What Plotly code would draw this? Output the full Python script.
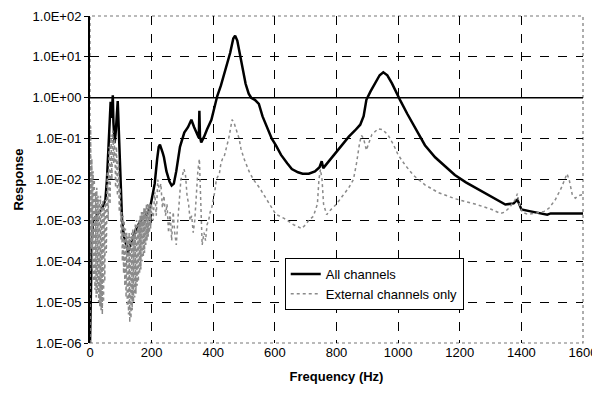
import plotly.graph_objects as go

# All channels (black line)
freq_all = [0, 3, 6, 10, 20, 30, 40, 50, 55, 60, 64, 67, 70, 72, 74, 76, 80, 84, 87, 90, 93, 97,
            100, 104, 110, 120, 125, 130, 140, 150, 165, 180, 195, 200, 210, 218, 223, 227, 232,
            236, 240, 248, 258, 265, 272, 280, 292, 306, 318, 329, 338, 348, 353, 355, 357, 361,
            370, 380, 394, 405, 413, 425, 440, 455, 465, 471, 478, 490, 505, 515, 523, 535, 548,
            560, 575, 590, 603, 620, 640, 655, 675, 690, 710, 730, 745, 752, 757, 770, 790, 816,
            840, 860, 877, 888, 897, 910, 925, 940, 952, 965, 980, 995, 1006, 1030, 1060, 1087,
            1120, 1150, 1184, 1220, 1258, 1300, 1348, 1375, 1387, 1393, 1400, 1430, 1460, 1484,
            1495, 1600]
resp_all = [1e-6, 3.2e-5, 3.2e-4, 1.0e-3, 1.3e-3, 1.6e-3, 2.0e-3, 3.2e-3, 1.0e-2, 6.3e-2,
            0.50, 0.79, 0.32, 1.0, 1.15, 0.25, 0.079, 0.16, 0.50, 0.83, 0.20, 0.032,
            3.2e-3, 1.0e-3, 4.0e-4, 2.0e-4, 1.6e-4, 2.5e-4, 4.0e-4, 6.3e-4, 1.0e-3, 1.3e-3,
            2.0e-3, 3.2e-3, 7.9e-3, 0.032, 0.063, 0.071, 0.050, 0.045, 0.035, 0.016, 8.9e-3,
            7.1e-3, 7.9e-3, 0.016, 0.063, 0.14, 0.19, 0.29, 0.19, 0.126, 0.105, 0.48, 0.11,
            0.081, 0.11, 0.17, 0.29, 0.63, 1.1, 2.0, 5.0, 12.6, 28.0, 33.0, 25.0, 7.9, 2.2,
            1.26, 1.0, 0.89, 0.71, 0.35, 0.18, 0.10, 0.069, 0.040, 0.025, 0.018, 0.015,
            0.0138, 0.0138, 0.0158, 0.020, 0.028, 0.019, 0.025, 0.040, 0.069, 0.112, 0.158,
            0.219, 0.355, 0.89, 1.41, 2.24, 3.55, 4.2, 3.55, 2.24, 1.26, 0.89, 0.40, 0.158,
            0.069, 0.035, 0.022, 0.0129, 8.5e-3, 5.9e-3, 4.0e-3, 2.45e-3, 2.6e-3, 3.2e-3,
            2.5e-3, 1.86e-3, 1.66e-3, 1.51e-3, 1.38e-3, 1.48e-3, 1.48e-3]

# External channels only (grey dotted line)
freq_ext = [0, 2, 4, 6, 8, 10, 12, 14, 16, 18, 20, 22, 24, 26, 28, 30, 32, 34, 36, 38, 40, 42,
            44, 46, 48, 50, 53, 56, 59, 62, 65, 68, 71, 74, 77, 80, 83, 86, 89, 92, 95, 98,
            101, 103, 105, 107, 109, 111, 113, 115, 117, 119, 121, 123, 125, 127, 129, 131,
            133, 135, 137, 139, 141, 143, 145, 147, 149, 151, 153, 155, 157, 159, 161, 163,
            165, 167, 169, 171, 173, 175, 177, 179, 181, 183, 185, 187, 189, 191, 193, 195,
            197, 200, 205, 210, 215, 220, 225, 230, 235,
            240, 245, 250, 255, 260, 265, 270, 275, 280, 285, 290, 295, 300, 305, 310, 315, 320,
            325, 330, 335, 340, 345, 350, 355, 360, 364, 370, 375, 380, 385, 390, 395, 400, 405,
            410, 415, 420, 425, 430, 435, 440, 445, 450, 455, 461, 467, 473, 478, 484, 490, 500,
            516, 530, 550, 575, 603, 630, 660, 687, 700, 710, 725, 738, 743, 748, 753, 758, 768,
            780, 800, 820, 840, 855, 865, 875, 881, 888, 897, 905, 915, 935, 950, 968, 985, 1000,
            1023, 1050, 1087, 1130, 1184, 1258, 1300, 1332, 1345, 1360, 1380, 1387, 1393, 1403,
            1420, 1450, 1474, 1490, 1510, 1530, 1540, 1548, 1555, 1565, 1575, 1585, 1600]
resp_ext = [1e-6, 0.20, 2.0e-4, 0.032, 6.3e-5, 0.016, 3.2e-5, 0.010, 2.0e-5, 5.0e-3, 1.3e-5,
            6.3e-3, 1.6e-5, 4.0e-3, 1.0e-5, 3.2e-3, 7.9e-6, 4.0e-3, 6.3e-6, 2.5e-3, 5.0e-6,
            3.2e-3, 1.0e-5, 2.0e-3, 3.2e-5, 3.2e-3, 1.6e-4, 0.016, 1.0e-3,
            0.063, 2.5e-3, 0.126, 0.010, 0.158, 0.025, 0.10, 6.3e-3, 0.063, 4.0e-3, 0.032,
            1.6e-3, 6.3e-3,
            3.2e-4, 1.6e-3, 1.0e-4, 1.3e-3, 5.0e-5, 1.0e-3, 2.5e-5, 6.3e-4, 1.3e-5, 5.0e-4,
            7.9e-6, 4.0e-4, 5.0e-6, 5.0e-4, 3.2e-6, 4.0e-4, 4.0e-6, 5.0e-4, 6.3e-6, 6.3e-4,
            1.0e-5, 5.0e-4, 1.3e-5, 7.9e-4, 1.6e-5, 1.0e-3, 2.5e-5, 7.9e-4, 3.2e-5, 1.0e-3,
            5.0e-5, 1.3e-3, 6.3e-5, 1.6e-3, 1.0e-4, 1.6e-3, 1.3e-4, 2.0e-3, 1.6e-4, 2.0e-3,
            2.5e-4, 2.5e-3, 3.2e-4, 2.5e-3, 4.0e-4, 2.5e-3, 5.0e-4, 2.5e-3,
            6.3e-4, 2.5e-3, 1.0e-3, 5.0e-3, 1.3e-3, 0.010,
            5.0e-3, 7.9e-3, 2.0e-3, 4.0e-3, 1.3e-3, 2.5e-3, 5.0e-4, 1.6e-3, 3.2e-4, 1.6e-3,
            5.0e-4, 2.5e-4, 1.0e-3, 4.0e-3, 0.010, 0.0126, 0.018, 0.0126, 4.0e-3, 2.5e-3,
            1.0e-3, 1.3e-3, 5.0e-4, 1.0e-3, 4.0e-3, 0.016, 0.032, 3.2e-3, 2.5e-4, 5.0e-4,
            3.2e-4, 7.9e-4, 1.0e-3, 1.6e-3, 2.0e-3, 3.2e-3, 5.0e-3, 0.010, 0.0126, 0.0141,
            0.025, 0.032, 0.035, 0.050, 0.063, 0.10, 0.158, 0.29, 0.25, 0.18, 0.126, 0.10,
            0.056, 0.032, 0.016, 0.010, 6.3e-3, 3.2e-3, 1.41e-3, 1.12e-3, 7.9e-4, 6.3e-4,
            7.9e-4, 1.0e-3, 1.26e-3, 2.5e-3, 0.010, 0.0178, 0.010, 2.5e-3, 1.38e-3, 1.78e-3,
            2.5e-3, 4.0e-3, 6.3e-3, 0.010, 0.025, 0.079, 0.12, 0.10, 0.052, 0.079, 0.126,
            0.174, 0.166, 0.12, 0.071, 0.040, 0.0224, 0.0126, 7.4e-3, 4.8e-3, 3.4e-3, 2.4e-3,
            1.9e-3, 1.48e-3, 1.58e-3, 2.0e-3, 3.2e-3, 4.5e-3, 2.5e-3, 1.58e-3, 1.41e-3,
            1.51e-3, 1.66e-3, 2.0e-3, 3.2e-3, 6.3e-3, 0.010, 0.0138, 0.010, 4.3e-3, 3.5e-3,
            4.0e-3, 4.3e-3]

y_ticks = [1e-6, 1e-5, 1e-4, 1e-3, 1e-2, 1e-1, 1e0, 1e1, 1e2]
y_labels = ["1.0E-06", "1.0E-05", "1.0E-04", "1.0E-03", "1.0E-02", "1.0E-01",
            "1.0E+00", "1.0E+01", "1.0E+02"]

font_name = "Liberation Sans, Arial, sans-serif"

fig = go.Figure()
fig.add_trace(go.Scatter(x=freq_all, y=resp_all, mode="lines", name="All channels",
                         line=dict(color="black", width=2.5)))
fig.add_trace(go.Scatter(x=freq_ext, y=resp_ext, mode="lines", name="External channels only",
                         line=dict(color="#8a8a8a", width=1.5, dash="dot")))

# solid reference line at 1.0
fig.add_hline(y=1, line=dict(color="black", width=1.3), layer="below")
# dotted frame on top/right/bottom
fig.add_shape(type="rect", xref="x domain", yref="y domain", x0=0, x1=1, y0=0, y1=1,
              line=dict(color="#777", width=1.2, dash="dot"), layer="below")

# page body adds an 8px offset; size kept so the page fits the window without scrolling
fig.update_layout(
    width=592, height=392,
    margin=dict(l=82, r=17, t=8, b=57),
    plot_bgcolor="white", paper_bgcolor="white",
    font=dict(family=font_name, size=13, color="black"),
    showlegend=True,
    legend=dict(x=0.395, y=0.26, xanchor="left", yanchor="top",
                bgcolor="white", bordercolor="black", borderwidth=1,
                font=dict(size=13), tracegroupgap=0, itemwidth=30),
)
fig.update_xaxes(range=[0, 1600], tickvals=list(range(0, 1601, 200)),
                 showgrid=True, gridcolor="black", gridwidth=1, griddash="dash",
                 zeroline=False, showline=False, ticks="", automargin=False,
                 title=dict(text="<b>Frequency (Hz)</b>", font=dict(size=13), standoff=12))
fig.update_yaxes(type="log", range=[-6, 2], tickvals=y_ticks, ticktext=y_labels,
                 showgrid=True, gridcolor="black", gridwidth=1, griddash="dash",
                 zeroline=False, showline=True, linecolor="black", linewidth=2,
                 ticks="outside", ticklen=4, tickcolor="black", automargin=False,
                 title=dict(text="<b>Response</b>", font=dict(size=13), standoff=6))

fig.write_html("out.html")
